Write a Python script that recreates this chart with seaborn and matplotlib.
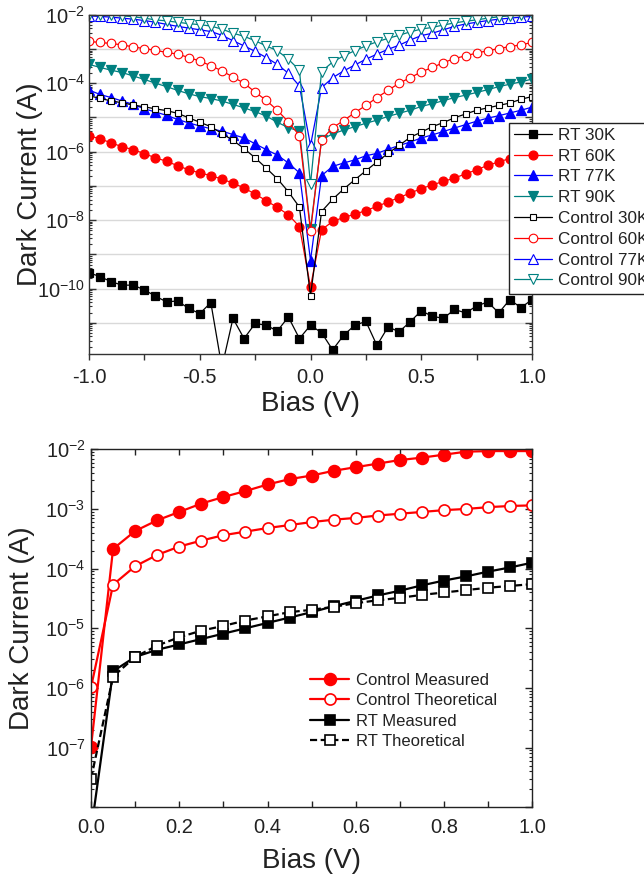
import numpy as np
import matplotlib
matplotlib.use("Agg")
import matplotlib.pyplot as plt
import matplotlib.ticker as mticker
import seaborn as sns

# ---------------- data (log10 of current in A) ----------------
bias_top = [-1.00, -0.95, -0.90, -0.85, -0.80, -0.75, -0.70, -0.65, -0.60, -0.55,
            -0.50, -0.45, -0.40, -0.35, -0.30, -0.25, -0.20, -0.15, -0.10, -0.05,
            0.00, 0.05, 0.10, 0.15, 0.20, 0.25, 0.30, 0.35, 0.40, 0.45,
            0.50, 0.55, 0.60, 0.65, 0.70, 0.75, 0.80, 0.85, 0.90, 0.95, 1.00]

log_rt30 = [-9.54, -9.65, -9.80, -9.90, -9.90, -10.04, -10.22, -10.39, -10.36, -10.58,
            -10.73, -10.41, -12.30, -10.87, -11.46, -11.02, -11.07, -11.24, -10.83, -11.46,
            -11.07, -11.29, -11.79, -11.36, -11.07, -10.96, -11.66, -11.12, -11.26, -10.97,
            -10.65, -10.81, -10.87, -10.61, -10.71, -10.51, -10.39, -10.71, -10.32, -10.56, -10.32]
log_rt60 = [-5.53, -5.63, -5.74, -5.86, -5.94, -6.06, -6.18, -6.28, -6.41, -6.53,
            -6.62, -6.70, -6.80, -6.92, -7.06, -7.24, -7.43, -7.63, -7.84, -8.19,
            -9.95, -8.28, -8.04, -7.92, -7.83, -7.72, -7.60, -7.47, -7.34, -7.21,
            -7.08, -6.97, -6.87, -6.77, -6.65, -6.53, -6.40, -6.30, -6.20, -6.09, -5.99]
log_rt77 = [-4.20, -4.33, -4.42, -4.52, -4.62, -4.75, -4.84, -4.94, -5.06, -5.16,
            -5.25, -5.33, -5.40, -5.50, -5.60, -5.77, -5.94, -6.10, -6.33, -6.62,
            -9.18, -6.70, -6.43, -6.33, -6.24, -6.12, -6.05, -5.93, -5.82, -5.72,
            -5.60, -5.51, -5.41, -5.31, -5.21, -5.11, -5.02, -4.95, -4.87, -4.79, -4.70]
log_rt90 = [-3.45, -3.54, -3.62, -3.69, -3.79, -3.89, -4.00, -4.10, -4.21, -4.31,
            -4.39, -4.45, -4.52, -4.62, -4.72, -4.83, -4.96, -5.14, -5.30, -5.40,
            -8.25, -5.65, -5.48, -5.37, -5.27, -5.17, -5.08, -4.97, -4.88, -4.79,
            -4.68, -4.60, -4.51, -4.42, -4.35, -4.27, -4.19, -4.10, -4.03, -3.96, -3.88]
log_c30 = [-4.37, -4.44, -4.52, -4.57, -4.64, -4.69, -4.75, -4.80, -4.88, -5.01,
           -5.14, -5.27, -5.47, -5.67, -5.91, -6.18, -6.48, -6.79, -7.17, -7.62,
           -10.21, -7.75, -7.39, -7.09, -6.82, -6.56, -6.30, -6.05, -5.82, -5.58,
           -5.43, -5.27, -5.15, -5.01, -4.90, -4.79, -4.72, -4.65, -4.58, -4.47, -4.39]
log_c60 = [-2.78, -2.81, -2.84, -2.88, -2.94, -2.99, -3.04, -3.10, -3.15, -3.25,
           -3.35, -3.49, -3.64, -3.82, -4.00, -4.26, -4.50, -4.79, -5.13, -5.53,
           -8.32, -5.65, -5.30, -5.09, -4.86, -4.65, -4.42, -4.21, -4.00, -3.84,
           -3.67, -3.54, -3.40, -3.28, -3.20, -3.12, -3.05, -2.99, -2.93, -2.88, -2.81]
log_c77 = [-2.03, -2.05, -2.07, -2.10, -2.13, -2.17, -2.22, -2.28, -2.34, -2.39,
           -2.44, -2.49, -2.60, -2.76, -2.91, -3.07, -3.25, -3.45, -3.71, -4.08,
           -5.82, -4.13, -3.84, -3.64, -3.47, -3.30, -3.15, -3.01, -2.89, -2.74,
           -2.61, -2.54, -2.44, -2.34, -2.27, -2.22, -2.17, -2.13, -2.10, -2.07, -2.05]
log_c90 = [-2.00, -2.00, -2.01, -2.03, -2.06, -2.10, -2.15, -2.18, -2.22, -2.26,
           -2.29, -2.33, -2.42, -2.54, -2.63, -2.76, -2.91, -3.05, -3.30, -3.62,
           -6.95, -3.66, -3.38, -3.20, -3.05, -2.91, -2.79, -2.69, -2.60, -2.50,
           -2.42, -2.37, -2.30, -2.24, -2.19, -2.15, -2.10, -2.06, -2.03, -2.01, -1.99]

bias_bot = [0.00, 0.05, 0.10, 0.15, 0.20, 0.25, 0.30, 0.35, 0.40, 0.45, 0.50,
            0.55, 0.60, 0.65, 0.70, 0.75, 0.80, 0.85, 0.90, 0.95, 1.00]
log_ctrl_meas = [-6.99, -3.67, -3.37, -3.19, -3.05, -2.91, -2.80, -2.70, -2.59, -2.50, -2.44,
                 -2.36, -2.30, -2.24, -2.18, -2.14, -2.09, -2.04, -2.03, -2.03, -2.03]
log_ctrl_theo = [-5.99, -4.27, -3.96, -3.77, -3.63, -3.53, -3.44, -3.38, -3.32, -3.27, -3.22,
                 -3.18, -3.15, -3.11, -3.08, -3.05, -3.02, -3.00, -2.97, -2.95, -2.94]
log_rt_meas = [-8.40, -5.72, -5.48, -5.36, -5.27, -5.18, -5.09, -5.00, -4.91, -4.82, -4.73,
               -4.63, -4.54, -4.45, -4.37, -4.28, -4.20, -4.13, -4.05, -3.98, -3.90]
log_rt_theo = [-7.52, -5.81, -5.48, -5.29, -5.15, -5.04, -4.96, -4.87, -4.80, -4.73, -4.69,
               -4.64, -4.58, -4.53, -4.49, -4.44, -4.40, -4.36, -4.32, -4.29, -4.26]

# ---------------- style ----------------
sns.set_style("ticks")
plt.rcParams['font.family'] = ['Liberation Sans', 'DejaVu Sans']
plt.rcParams['mathtext.fontset'] = 'custom'
plt.rcParams['mathtext.rm'] = 'Liberation Sans'
plt.rcParams['mathtext.it'] = 'Liberation Sans:italic'
plt.rcParams['mathtext.bf'] = 'Liberation Sans:bold'
plt.rcParams['axes.unicode_minus'] = False

TXT = '#222222'
RED, BLUE, TEAL, BLACK = '#ff0000', '#0000ff', '#008080', '#000000'

fig = plt.figure(figsize=(6.44, 8.77), dpi=100)
ax1 = fig.add_axes([0.1382, 0.5960, 0.6879, 0.3872])
ax2 = fig.add_axes([0.1413, 0.0795, 0.6852, 0.4082])

for ax in (ax1, ax2):
    ax.set_yscale('log')

# ---------------- top panel ----------------
top_series = [
    ('RT 30K', log_rt30, BLACK, 's', True, 5.6),
    ('RT 60K', log_rt60, RED, 'o', True, 6.4),
    ('RT 77K', log_rt77, BLUE, '^', True, 6.6),
    ('RT 90K', log_rt90, TEAL, 'v', True, 6.6),
    ('Control 30K', log_c30, BLACK, 's', False, 5.0),
    ('Control 60K', log_c60, RED, 'o', False, 6.2),
    ('Control 77K', log_c77, BLUE, '^', False, 6.6),
    ('Control 90K', log_c90, TEAL, 'v', False, 6.6),
]
for lab, vals, col, mk, filled, ms in top_series:
    sns.lineplot(x=bias_top, y=10 ** np.array(vals), ax=ax1, color=col,
                 estimator=None, sort=False, errorbar=None,
                 marker=mk, markersize=ms,
                 markerfacecolor=col if filled else 'white',
                 markeredgecolor=col, markeredgewidth=0.9 if filled else 0.8,
                 linewidth=0.9, label=lab)

ax1.set_xlim(-1.0, 1.0)
ax1.set_ylim(10 ** -11.92, 1e-2)
ax1.grid(axis='y', which='major', color='#d9d9d9', linewidth=1.0)
ax1.grid(axis='x', visible=False)
ax1.set_axisbelow(True)

def fmt_top(v, pos):
    e = int(round(np.log10(v)))
    return r'$\mathregular{10^{%d}}$' % e if (e % 2 == 0 and -10 <= e <= -2) else ''

ax1.yaxis.set_major_locator(mticker.LogLocator(base=10, numticks=30))
ax1.yaxis.set_major_formatter(mticker.FuncFormatter(fmt_top))
ax1.yaxis.set_minor_locator(mticker.LogLocator(base=10, subs=np.arange(2, 10), numticks=30))
ax1.yaxis.set_minor_formatter(mticker.NullFormatter())
ax1.xaxis.set_major_locator(mticker.FixedLocator([-1.0, -0.5, 0.0, 0.5, 1.0]))
ax1.xaxis.set_minor_locator(mticker.MultipleLocator(0.25))
ax1.xaxis.set_major_formatter(mticker.FormatStrFormatter('%.1f'))
ax1.tick_params(axis='x', which='both', direction='out', length=4, width=1,
                color='#333333', labelsize=14.5, labelcolor=TXT, top=False, pad=6)
ax1.tick_params(axis='y', which='major', direction='in', length=5, width=1,
                color='#333333', labelsize=14.5, labelcolor=TXT, right=True, pad=3)
ax1.tick_params(axis='y', which='minor', direction='in', length=2.5, width=0.8,
                color='#333333', right=True)
sec = ax1.secondary_xaxis('top')
sec.xaxis.set_major_locator(mticker.FixedLocator([-1.0, -0.5, 0.0, 0.5, 1.0]))
sec.xaxis.set_minor_locator(mticker.MultipleLocator(0.25))
sec.tick_params(axis='x', which='both', direction='in', length=4, width=1,
                color='#333333', labeltop=False)
for s in sec.spines.values():
    s.set_color('#333333')
for s in ax1.spines.values():
    s.set_color('#333333')
    s.set_linewidth(1.0)

ax1.set_xlabel('Bias (V)', fontsize=20, color=TXT)
ax1.set_ylabel('Dark Current (A)', fontsize=20, color=TXT)
ax1.xaxis.set_label_coords(0.5, -0.107)
ax1.yaxis.set_label_coords(-0.104, 0.5)

h, l = ax1.get_legend_handles_labels()
leg1 = ax1.legend(h, l, loc='upper left', bbox_to_anchor=(0.7904, 0.8601),
                  bbox_transform=fig.transFigure, frameon=True, fancybox=False,
                  edgecolor='#222222', framealpha=1, fontsize=12.3,
                  handlelength=2.2, handletextpad=0.35, labelspacing=0.34,
                  borderpad=0.3, borderaxespad=0)
leg1.get_frame().set_linewidth(1.0)
for t in leg1.get_texts():
    t.set_color(TXT)

# ---------------- bottom panel ----------------
bot_series = [
    ('Control Measured', log_ctrl_meas, RED, 'o', True, 8.5, '-'),
    ('Control Theoretical', log_ctrl_theo, RED, 'o', False, 8.0, '-'),
    ('RT Measured', log_rt_meas, BLACK, 's', True, 7.5, '-'),
    ('RT Theoretical', log_rt_theo, BLACK, 's', False, 6.5, (0, (3.2, 1.6))),
]
for lab, vals, col, mk, filled, ms, ls in bot_series:
    sns.lineplot(x=bias_bot, y=10 ** np.array(vals), ax=ax2, color=col,
                 estimator=None, sort=False, errorbar=None,
                 marker=mk, markersize=ms, linestyle=ls,
                 markerfacecolor=col if filled else 'white',
                 markeredgecolor=col, markeredgewidth=1.2,
                 linewidth=1.6, label=lab)

ax2.set_xlim(0.0, 1.0)
ax2.set_ylim(1e-8, 1e-2)
ax2.grid(False)
ax2.yaxis.set_major_locator(mticker.LogLocator(base=10, numticks=30))
ax2.yaxis.set_major_formatter(mticker.FuncFormatter(
    lambda v, p: r'$\mathregular{10^{%d}}$' % int(round(np.log10(v)))
    if -7 <= int(round(np.log10(v))) <= -2 else ''))
ax2.yaxis.set_minor_locator(mticker.LogLocator(base=10, subs=np.arange(2, 10), numticks=30))
ax2.yaxis.set_minor_formatter(mticker.NullFormatter())
ax2.xaxis.set_major_locator(mticker.MultipleLocator(0.2))
ax2.xaxis.set_minor_locator(mticker.MultipleLocator(0.1))
ax2.xaxis.set_major_formatter(mticker.FormatStrFormatter('%.1f'))
ax2.tick_params(axis='x', which='both', direction='in', length=4, width=1,
                color='#222222', labelsize=14.5, labelcolor=TXT, top=True, pad=8)
ax2.tick_params(axis='y', which='major', direction='in', length=5, width=1,
                color='#222222', labelsize=14.5, labelcolor=TXT, right=True, pad=4)
ax2.tick_params(axis='y', which='minor', direction='in', length=2.5, width=0.8,
                color='#222222', right=True)
for s in ax2.spines.values():
    s.set_color('#222222')
    s.set_linewidth(1.0)

ax2.set_xlabel('Bias (V)', fontsize=20, color=TXT)
ax2.set_ylabel('Dark Current (A)', fontsize=20, color=TXT)
ax2.xaxis.set_label_coords(0.5, -0.113)
ax2.yaxis.set_label_coords(-0.128, 0.5)

h2, l2 = ax2.get_legend_handles_labels()
leg2 = ax2.legend(h2, l2, loc='upper left', bbox_to_anchor=(0.4814, 0.2330),
                  bbox_transform=fig.transFigure, frameon=False, fontsize=12.0,
                  handlelength=2.35, handletextpad=0.38, labelspacing=0.33,
                  borderpad=0, borderaxespad=0)
for t in leg2.get_texts():
    t.set_color(TXT)

fig.savefig('out.png', dpi=100)
